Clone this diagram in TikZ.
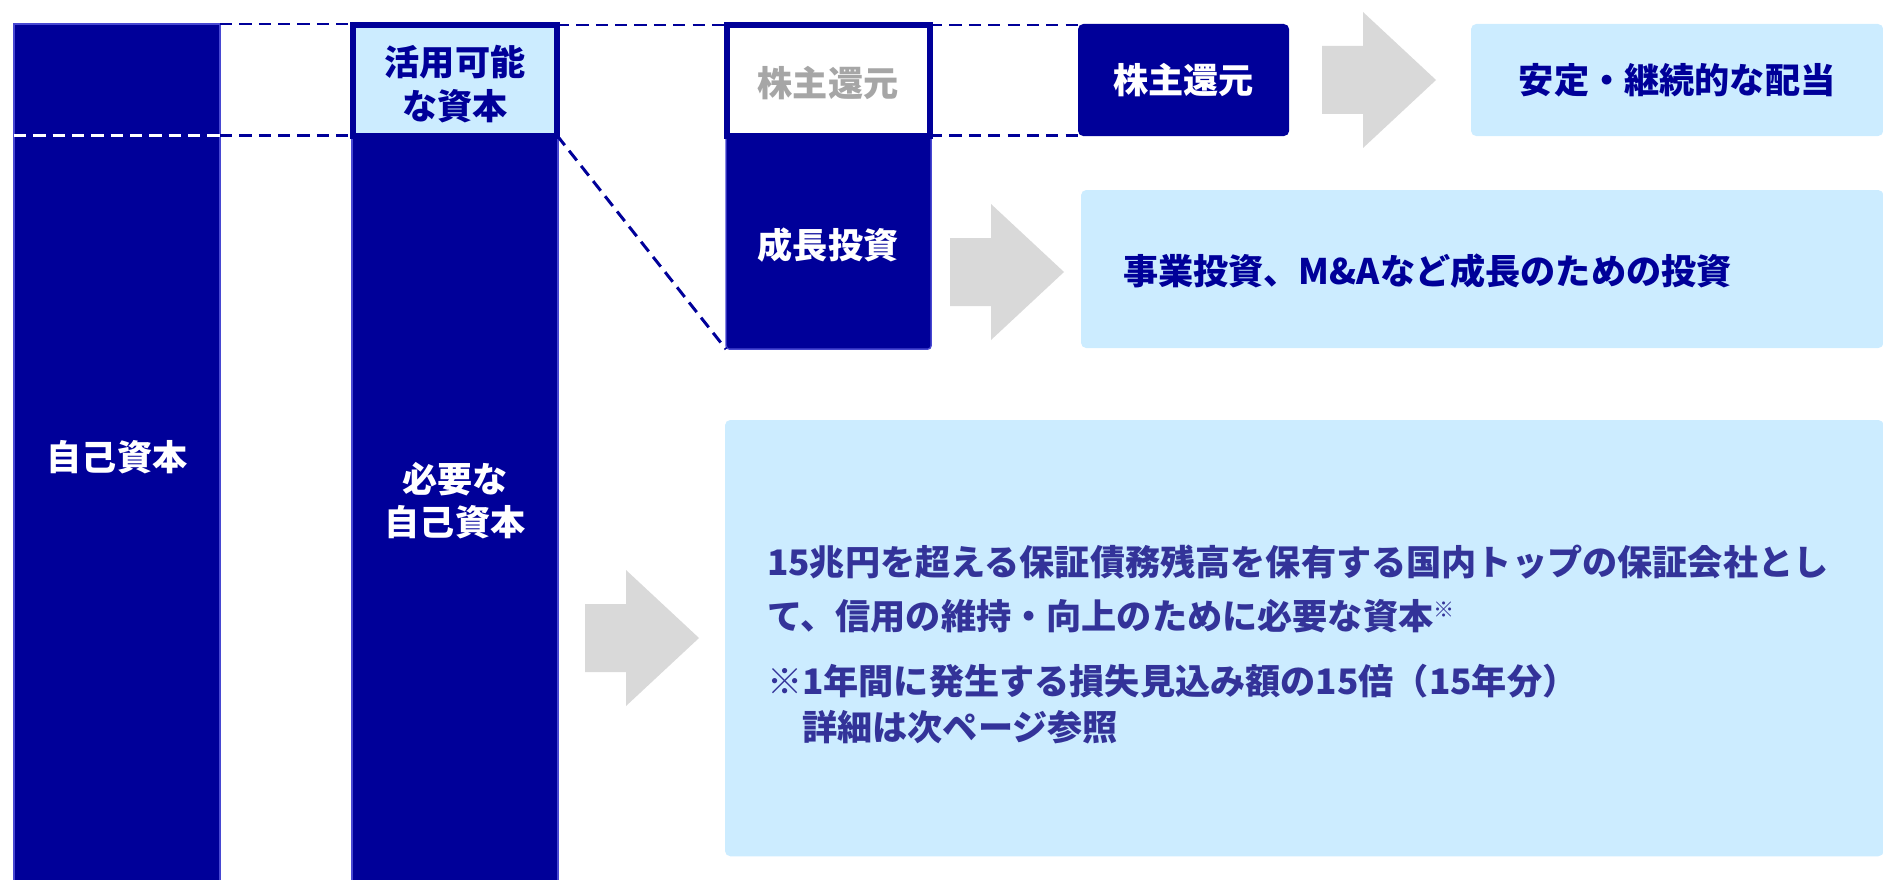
\documentclass[tikz,border=0pt]{standalone}
\usepackage{fontspec}
\setmainfont{Noto Sans CJK JP}
\usetikzlibrary{positioning}
\definecolor{navy}{RGB}{0,0,153}
\definecolor{paleblue}{RGB}{204,236,255}
\definecolor{arrowgray}{RGB}{217,217,217}
\definecolor{labelgray}{RGB}{166,166,166}
\definecolor{notenavy}{RGB}{51,51,153}
\definecolor{barline}{RGB}{72,72,210}

\begin{document}
\begin{tikzpicture}[x=0.01cm, y=-0.01cm]
\tikzstyle{every node}=[inner sep=0pt, outer sep=0pt,
                        font=\fontsize{10pt}{12.3pt}\selectfont\bfseries]
\tikzstyle{bar}=[rectangle, anchor=north west, fill=navy, draw=barline, line width=0.4pt]
\tikzstyle{capbox}=[rectangle, anchor=north west, draw=navy, line width=1.7pt]
\tikzstyle{darkbox}=[rectangle, anchor=north west, fill=navy, rounded corners=1.5pt, text=white]
\tikzstyle{palebox}=[rectangle, anchor=north west, fill=paleblue, rounded corners=1.5pt]
\tikzstyle{guide}=[navy, line width=0.85pt, dash pattern=on 3.5pt off 2pt]
\useasboundingbox (0,0) rectangle (1883,879);
% capital bars
\node[bar, minimum width=2.06cm, minimum height=8.7cm] (equity) at (14,24) {};
\node[bar, minimum width=2.06cm, minimum height=8.7cm] (required) at (352,24) {};
\node[bar, minimum width=2.05cm, minimum height=3.25cm, rounded corners=1pt] (growth) at (726,24) {};
\node[capbox, fill=paleblue, minimum width=2.04cm, minimum height=1.105cm] (usable) at (353,25) {};
\node[capbox, fill=white, minimum width=2.03cm, minimum height=1.105cm] (retgray) at (727,25) {};
% boxes on the right
\node[darkbox, minimum width=2.11cm, minimum height=1.12cm] (payout) at (1078,24) {株主還元};
\node[palebox, minimum width=4.12cm, minimum height=1.12cm, text=navy] (dividend) at (1471,24) {安定・継続的な配当};
\node[palebox, minimum width=8.02cm, minimum height=1.58cm] (invest) at (1081,190) {};
\node[palebox, minimum width=11.58cm, minimum height=4.36cm] (reason) at (725,420) {};
% labels
\node[text=white] (equitytxt) at (117,457) {自己資本};
\node[text=navy, align=center] (usabletxt) at (455,84) {活用可能\\な資本};
\node[text=white, align=center] (requiredtxt) at (455,501) {必要な\\自己資本};
\node[text=labelgray] (retgraytxt) at (828,83) {株主還元};
\node[text=white] (growthtxt) at (828,245) {成長投資};
\node[text=navy, anchor=west] (investtxt) at (1123,271) {事業投資、M\&Aなど成長のための投資};
\node[text=notenavy, anchor=west] (note1) at (767,562) {15兆円を超える保証債務残高を保有する国内トップの保証会社とし};
\node[text=notenavy, anchor=west] (note2) at (767,616) {て、信用の維持・向上のために必要な資本\smash{\raisebox{0.35em}{\fontsize{6pt}{6pt}\selectfont ※}}};
\node[text=notenavy, anchor=west] (note3) at (767,681) {※1年間に発生する損失見込み額の15倍（15年分）};
\node[text=notenavy, anchor=west] (note4) at (767,727) {　詳細は次ページ参照};
% block arrows
\foreach \ax/\ay in {1322/80, 950/272, 585/638}
  \fill[arrowgray] (\ax,\ay-34) -- ++(41,0) -- ++(0,-34) -- (\ax+114,\ay)
    -- (\ax+41,\ay+68) -- ++(0,-34) -- (\ax,\ay+34) -- cycle;
% dashed guides
\draw[guide] (equity.north east) -- (required.north west);
\draw[guide] (usable.north east) -- (retgray.north west);
\draw[guide] (retgray.north east) -- (retgray.north east -| payout.west);
\draw[guide, white] (equity.west |- usable.south) -- (equity.east |- usable.south);
\draw[guide] (equity.east |- usable.south) -- (usable.south west);
\draw[guide] (usable.south east) -- (growth.south west);
\draw[guide] (retgray.south east) -- (retgray.south east -| payout.west);
\end{tikzpicture}
\end{document}
